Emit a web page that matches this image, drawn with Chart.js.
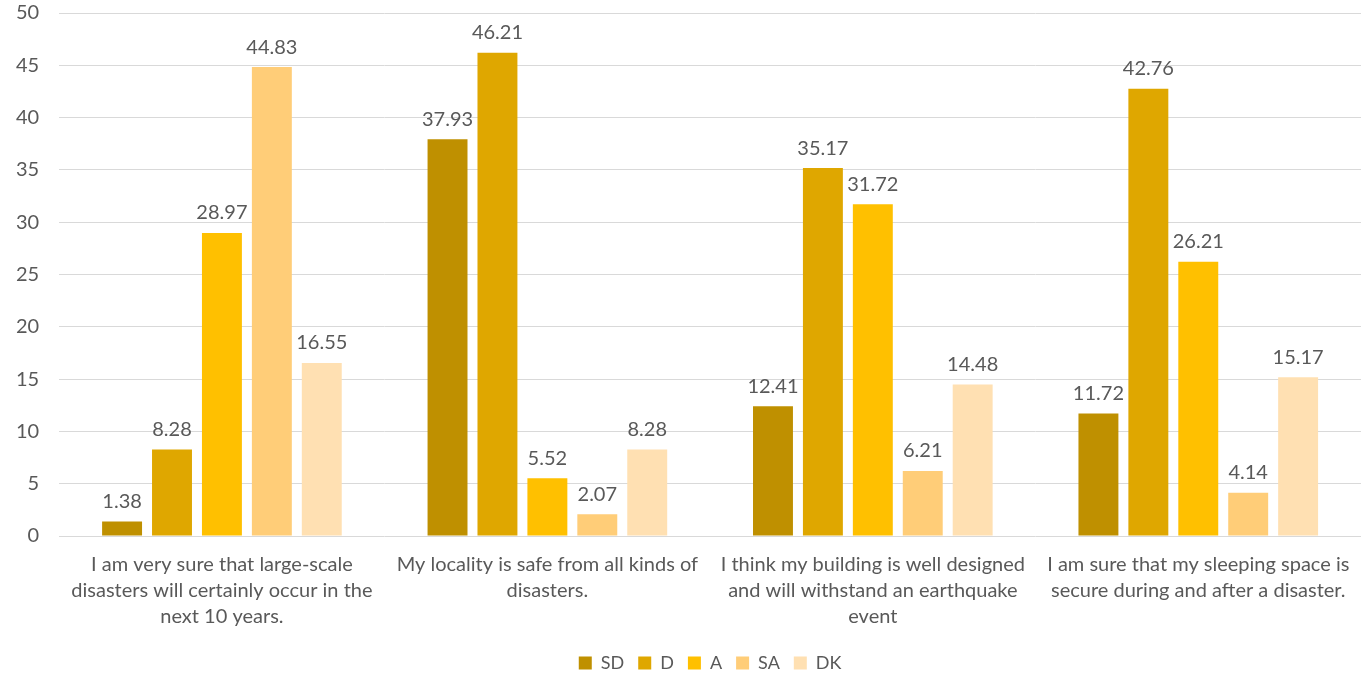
<!DOCTYPE html>
<html><head><meta charset="utf-8">
<script src="https://cdn.jsdelivr.net/npm/chart.js@4/dist/chart.umd.min.js"></script>
<style>html,body{margin:0;padding:0;background:#fff}#wrap{width:1363px;height:676px}</style>
</head><body><div id="wrap"><canvas id="c"></canvas></div>
<script>
const categories = [
  ["I am very sure that large-scale", "disasters will certainly occur in the", "next 10 years."],
  ["My locality is safe from all kinds of", "disasters."],
  ["I think my building is well designed", "and will withstand an earthquake", "event"],
  ["I am sure that my sleeping space is", "secure during and after a disaster."]
];
const seriesNames = ["SD", "D", "A", "SA", "DK"];
const SD = [1.38, 37.93, 12.41, 11.72];
const D  = [8.28, 46.21, 35.17, 42.76];
const A  = [28.97, 5.52, 31.72, 26.21];
const SA = [44.83, 2.07, 6.21, 4.14];
const DK = [16.55, 8.28, 14.48, 15.17];
const yTicks = {min: 0, max: 50, step: 5};

const colors = ["#BF9000", "#DFA700", "#FFC000", "#FFCD78", "#FFE0B2"];
const values = [SD, D, A, SA, DK];
const FONT = "Lato, 'Open Sans', sans-serif";

const labelPlugin = {
  id: 'dataLabels',
  afterDatasetsDraw(chart) {
    const ctx = chart.ctx;
    ctx.save();
    ctx.font = "20px " + FONT;
    ctx.fillStyle = "#595959";
    ctx.textAlign = "center";
    ctx.textBaseline = "bottom";
    chart.data.datasets.forEach((ds, i) => {
      chart.getDatasetMeta(i).data.forEach((bar, j) => {
        ctx.fillText(ds.data[j].toFixed(2), bar.x, bar.y - 10);
      });
    });
    ctx.restore();
  }
};

new Chart(document.getElementById('c'), {
  type: 'bar',
  data: {
    labels: categories,
    datasets: seriesNames.map((n, i) => ({
      label: n, data: values[i], backgroundColor: colors[i],
      categoryPercentage: 0.767, barPercentage: 0.8
    }))
  },
  options: {
    responsive: true, maintainAspectRatio: false, animation: false,
    layout: {padding: {left: -4, right: 2, top: 0, bottom: -6}},
    plugins: {
      legend: {
        position: 'bottom',
        fullSize: false,
        labels: {font: {family: FONT, size: 18}, color: '#595959', boxWidth: 13, boxHeight: 13, padding: 14}
      },
      tooltip: {enabled: false}
    },
    scales: {
      x: {
        grid: {display: false},
        border: {display: false},
        ticks: {font: {family: FONT, size: 20, lineHeight: 1.3}, color: '#595959', maxRotation: 0, autoSkip: false, padding: 8},
        afterFit(s) { s.height += 2; }
      },
      y: {
        min: yTicks.min, max: yTicks.max,
        ticks: {stepSize: yTicks.step, font: {family: FONT, size: 20}, color: '#595959', padding: 20},
        grid: {color: '#d9d9d9', drawTicks: false},
        border: {display: false},
        afterFit(s) { s.paddingTop = 13; s.paddingBottom = 13; }
      }
    }
  },
  plugins: [labelPlugin]
});
</script></body></html>
